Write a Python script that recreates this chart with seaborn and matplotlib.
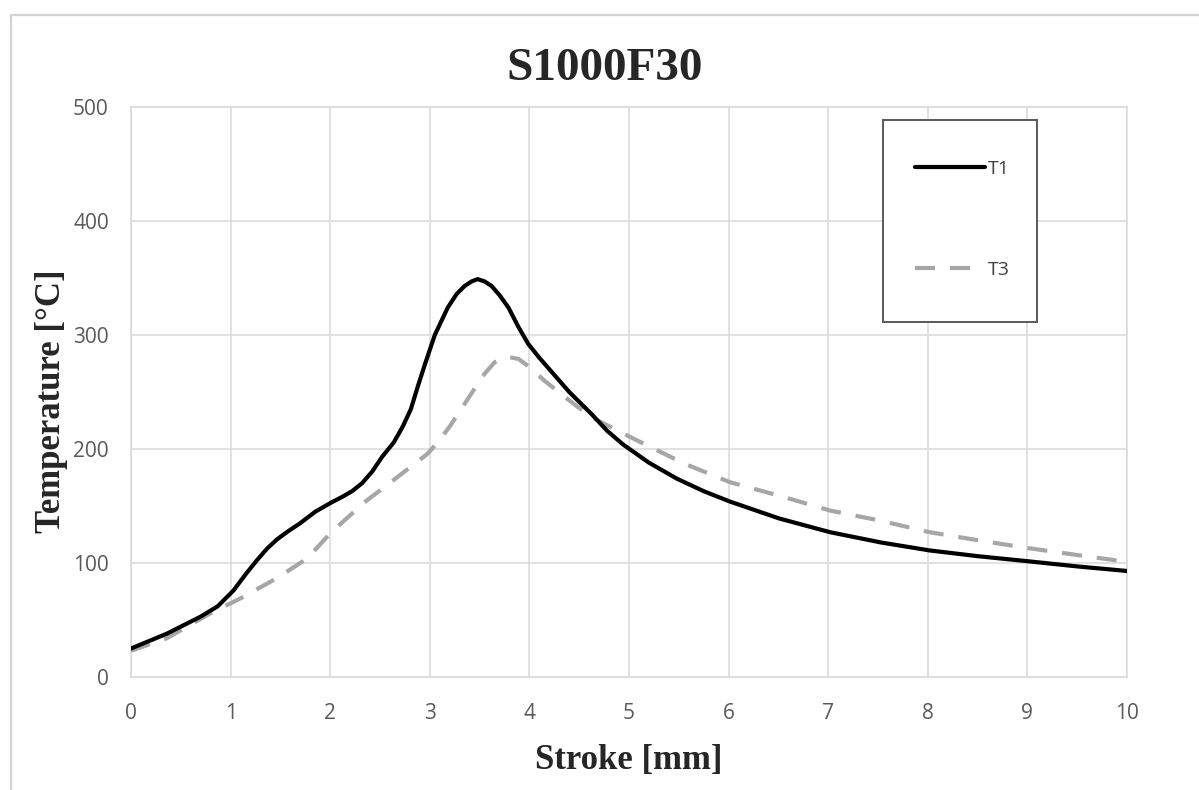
import matplotlib
matplotlib.use("Agg")
import matplotlib.pyplot as plt
import seaborn as sns
import pandas as pd
from matplotlib.lines import Line2D
from matplotlib.patches import Rectangle

# ---- data ----
t1_stroke = [0.0, 0.36, 0.70, 0.87, 1.03, 1.15, 1.27, 1.37, 1.47, 1.58, 1.70, 1.85,
             2.01, 2.12, 2.22, 2.32, 2.42, 2.52, 2.64, 2.73, 2.81, 2.88, 2.95, 3.05,
             3.18, 3.27, 3.35, 3.42, 3.48, 3.55, 3.62, 3.70, 3.79, 3.89, 3.99, 4.10,
             4.22, 4.40, 4.62, 4.78, 4.94, 5.20, 5.48, 5.75, 6.01, 6.51, 7.02, 7.53,
             8.02, 8.5, 9.01, 9.5, 10.0]
t1_temp = [25, 38, 53, 62, 76, 90, 103, 113, 121, 128, 135, 145,
           153, 158, 163, 170, 180, 193, 206, 220, 235, 255, 274, 300,
           324, 336, 343, 347, 349, 347, 343, 335, 324, 307, 292, 280,
           268, 250, 231, 216, 204, 188, 174, 163, 154, 139, 127, 118,
           111, 106, 101.5, 97, 93]

t3_stroke = [0.0, 0.36, 0.8, 1.1, 1.47, 1.77, 2.0, 2.34, 2.64, 2.98, 3.1, 3.21, 3.33,
             3.45, 3.55, 3.65, 3.77, 3.89, 4.0, 4.15, 4.35, 4.62, 5.07, 5.56, 6.01,
             6.55, 7.02, 7.53, 8.02, 8.5, 9.01, 9.5, 10.0]
t3_temp = [23, 34, 56, 69, 87, 104, 126, 153, 173, 196, 208, 221, 237,
           253, 266, 276, 281, 279, 272, 260, 246, 228, 208, 187, 171,
           158, 146, 137, 127, 120, 113, 107, 101]

x_ticks = [0, 1, 2, 3, 4, 5, 6, 7, 8, 9, 10]
y_ticks = [0, 100, 200, 300, 400, 500]
title = "S1000F30"
x_label = "Stroke [mm]"
y_label = "Temperature [°C]"

df1 = pd.DataFrame({"Stroke": t1_stroke, "Temp": t1_temp})
df3 = pd.DataFrame({"Stroke": t3_stroke, "Temp": t3_temp})

sns.set_theme(style="white")
plt.rcParams["font.family"] = ["Open Sans", "DejaVu Sans"]

W, H = 1199, 790
fig = plt.figure(figsize=(W / 100, H / 100), dpi=100)
fig.patch.set_facecolor("white")
ax = fig.add_axes([131 / W, 1 - 677 / H, (1127 - 131) / W, (677 - 107) / H])

grid_c = "#d9d9d9"
sns.lineplot(data=df3, x="Stroke", y="Temp", ax=ax, color="#a6a6a6", lw=3.0,
             linestyle=(0, (4.8, 3.6)), label="T3", sort=False, zorder=3)
sns.lineplot(data=df1, x="Stroke", y="Temp", ax=ax, color="black", lw=3.0,
             label="T1", sort=False, zorder=4)
for ln in ax.get_lines():
    ln.set_solid_joinstyle("round")
    ln.set_solid_capstyle("round")

ax.set_xlim(0, 10)
ax.set_ylim(0, 500)
ax.set_xticks(x_ticks)
ax.set_yticks(y_ticks)
ax.grid(True, color=grid_c, lw=1.1)
ax.set_axisbelow(True)
for s in ax.spines.values():
    s.set_visible(True)
    s.set_color(grid_c)
    s.set_linewidth(1.1)
ax.tick_params(axis="both", length=0, labelsize=15, labelcolor="#595959")
ax.tick_params(axis="x", pad=19)
ax.tick_params(axis="y", pad=16)

ax.set_xlabel("")
ax.set_ylabel("")
serif = ["Liberation Serif", "DejaVu Serif"]
fig.text(629 / W, 1 - 760 / H, x_label, ha="center", va="center",
         fontsize=25, fontweight="bold", family=serif)
fig.text(51 / W, 1 - 401 / H, y_label, ha="center", va="center", rotation=90,
         fontsize=25, fontweight="bold", family=serif)
fig.text(604.5 / W, 1 - 69 / H, title, ha="center", va="center",
         fontsize=34, fontweight="bold", family=serif)

# legend frame drawn separately
bx0, bx1, by0, by1 = 883, 1037, 120, 322
ax.add_patch(Rectangle(((bx0 - 131) / 996, (677 - by1) / 570),
                       (bx1 - bx0) / 996, (by1 - by0) / 570,
                       transform=ax.transAxes, facecolor="white",
                       edgecolor="#595959", lw=1.4, zorder=5, clip_on=False))

handles, labels = ax.get_legend_handles_labels()
order = [labels.index("T1"), labels.index("T3")]
leg = ax.legend([handles[i] for i in order], [labels[i] for i in order],
                loc="upper left", bbox_to_anchor=((915 - 131) / 996, (677 - 160) / 570),
                borderaxespad=0, borderpad=0,
                fontsize=14, handlelength=3.6, handletextpad=0.15,
                labelspacing=4.26, frameon=False)
leg.set_zorder(6)
for t in leg.get_texts():
    t.set_color("#404040")

# outer chart border (top and left visible)
fig.add_artist(Line2D([11 / W, 1.0], [1 - 15 / H, 1 - 15 / H], color="#d4d4d4", lw=1.6))
fig.add_artist(Line2D([11 / W, 11 / W], [0, 1 - 15 / H], color="#d4d4d4", lw=1.6))

fig.savefig("out.png", dpi=100, facecolor="white")
